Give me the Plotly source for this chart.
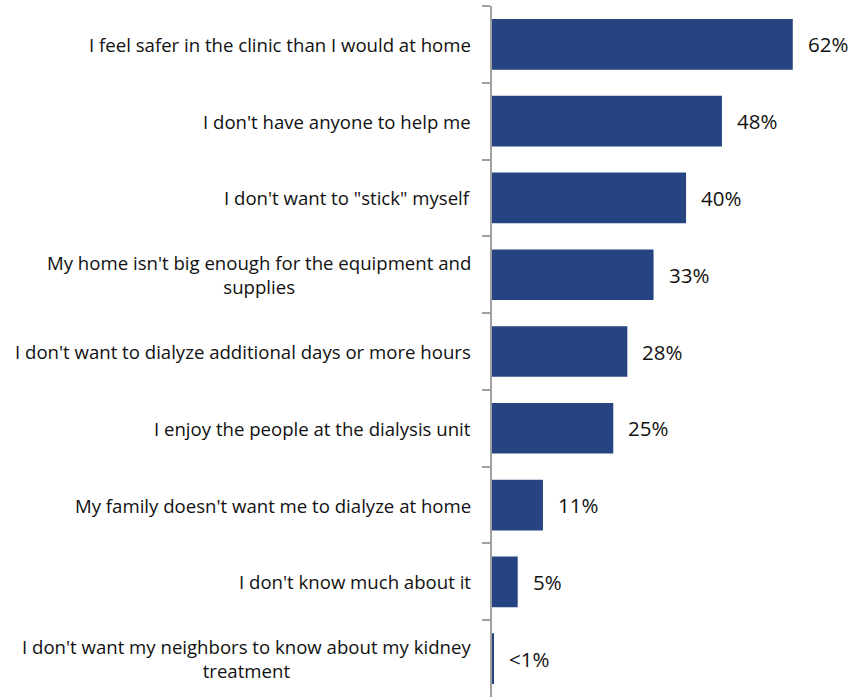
import plotly.graph_objects as go

categories = [
    "I feel safer in the clinic than I would at home",
    "I don't have anyone to help me",
    "I don't want to \"stick\" myself",
    "My home isn't big enough for the equipment and<br>supplies",
    "I don't want to dialyze additional days or more hours",
    "I enjoy the people at the dialysis unit",
    "My family doesn't want me to dialyze at home",
    "I don't know much about it",
    "I don't want my neighbors to know about my kidney<br>treatment",
]
values = [62, 47.4, 40, 33.3, 27.9, 25, 10.5, 5.3, 0.4]
value_labels = ["62%", "48%", "40%", "33%", "28%", "25%", "11%", "5%", "<1%"]

BAR = "#264482"
AXIS = "#a0a0a0"
FONT = "'Open Sans', sans-serif"

fig = go.Figure()
fig.add_trace(go.Bar(
    x=values, y=categories, orientation="h",
    marker=dict(color=BAR, line=dict(width=0)),
    hoverinfo="skip",
))

annotations = []
for c, v, lab in zip(categories, values, value_labels):
    annotations.append(dict(
        x=v, y=c, xref="x", yref="y", text=lab, showarrow=False,
        xanchor="left", yanchor="middle", xshift=13,
        font=dict(family=FONT, size=20.5, color="#111111"),
    ))
    annotations.append(dict(
        x=0, y=c, xref="paper", yref="y", text=c, showarrow=False,
        xanchor="right", yanchor="middle", xshift=-19, align="center",
        font=dict(family=FONT, size=18.6, color="#111111"),
    ))

fig.update_layout(
    width=851, height=697,
    margin=dict(l=492, r=0, t=6, b=0),
    paper_bgcolor="white", plot_bgcolor="white",
    bargap=0.34,
    showlegend=False,
    annotations=annotations,
    xaxis=dict(range=[0, 74], visible=False, showgrid=False, zeroline=False),
    yaxis=dict(
        categoryorder="array", categoryarray=categories, autorange="reversed",
        showticklabels=False, showgrid=False, zeroline=False,
        showline=True, linecolor=AXIS, linewidth=1.5,
        ticks="outside", tickson="boundaries", ticklen=8, tickcolor=AXIS, tickwidth=1.5,
    ),
)

fig.write_html("out.html")
